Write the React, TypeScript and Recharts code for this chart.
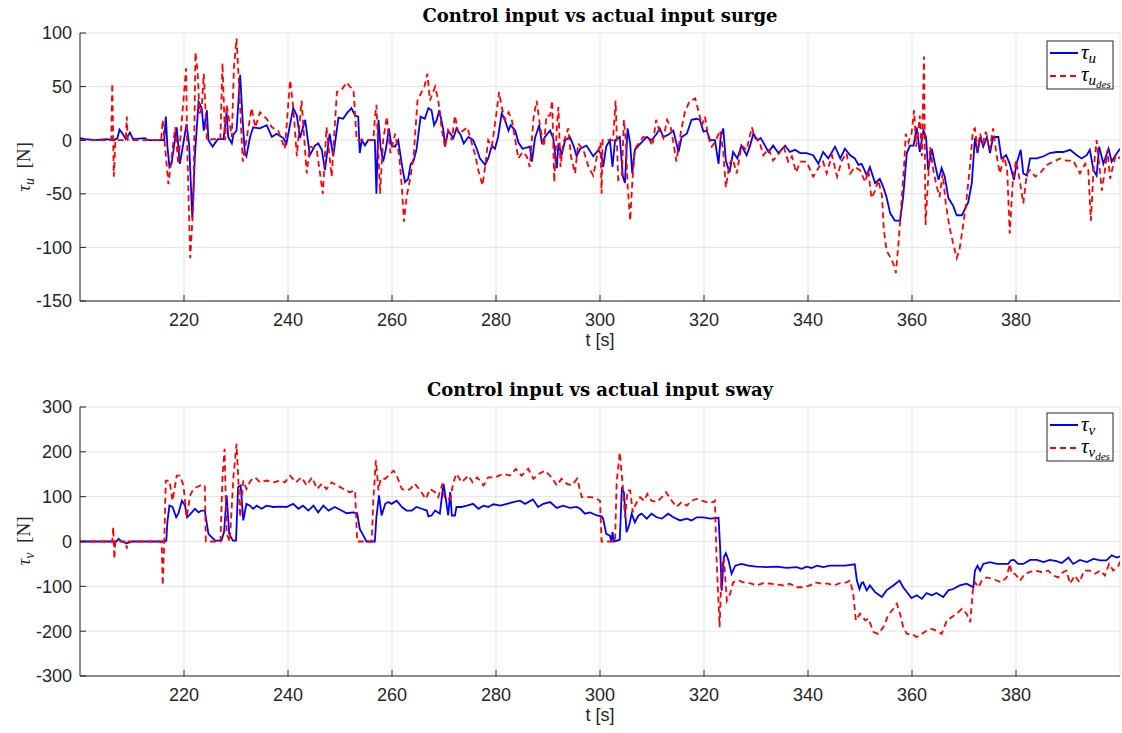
import React from 'react';
import { LineChart, Line, XAxis, YAxis, CartesianGrid } from 'recharts';

// time axis ticks (s)
const xTicks = [220, 240, 260, 280, 300, 320, 340, 360, 380];
const surgeTicks = [-150, -100, -50, 0, 50, 100];
const swayTicks = [-300, -200, -100, 0, 100, 200, 300];

// [t, tau] samples
const surgeActual: [number, number][] = [
  [200, 2], [201, 1], [203, 0], [205, 1], [206.5, 0], [207.2, 2], [207.6, 10], [208.2, 6], [208.8, 1], [209.6, 7],
  [210.2, 1], [212.5, 2], [213, 0], [216.2, 0], [216.5, 22], [216.8, -5], [217.2, -25], [217.6, -22], [218.6, 12],
  [219.2, -22], [219.8, -5], [220.5, 15], [221, -5], [221.6, -73], [222.1, -14], [222.8, 36], [223.4, 30], [223.8, 9],
  [224.4, 28], [224.7, 0], [225.5, -6], [226.5, 1], [227.6, 1], [228.2, 26], [228.5, 3], [229.2, -3], [229.5, 5],
  [230.1, 9], [230.8, 61], [231.3, 17], [231.7, -12], [232, -15], [232.7, 3], [233.3, 12], [234.6, 11], [235.9, 14],
  [236.9, 3], [237.8, 6], [239.1, 2], [239.7, -3], [241, 30], [241.7, 23], [242.3, 2], [243.3, 19], [244.2, -14],
  [245.2, -5], [245.8, -3], [246.5, -9], [247.1, -28], [248, 6], [248.7, -15], [249.7, 21], [250.6, 20], [251.3, 25],
  [252.2, 30], [252.9, 23], [253.5, 22], [253.8, -12], [254.2, 0], [254.8, -5], [255.4, 0], [256.7, 0], [257, -50],
  [257.4, 19], [257.8, -6], [258.3, -20], [258.8, -9], [259.4, 11], [259.9, -5], [260.6, -6], [261.2, 0], [261.9, -23],
  [262.5, -39], [263.1, -36], [263.6, -22], [264.1, -20], [264.7, -9], [265.5, 22], [266.3, 20], [267, 30], [267.6, 28],
  [268.1, 14], [268.6, 19], [269.1, 28], [269.9, 9], [270.2, -6], [270.8, 9], [271.8, 2], [272.4, 11], [273.2, 5],
  [273.8, -3], [274.7, 3], [275.6, 0], [276.3, -8], [276.9, -17], [277.9, -23], [278.5, -17], [279.2, -5], [279.8, -8],
  [280.4, 3], [281.1, 25], [281.7, 19], [282.4, 9], [282.8, 14], [283.7, 9], [284.3, -2], [285.1, -8], [286.5, -6],
  [286.9, -20], [287.5, 2], [288.3, 14], [288.8, -2], [289.4, 3], [290.4, 9], [291, 2], [291.7, -26], [292, -3],
  [292.6, -14], [293.3, 0], [294.2, 3], [294.9, -5], [295.5, -15], [296.2, -8], [297.4, -5], [298.7, -15], [299.7, -9],
  [300.3, -14], [300.6, -25], [301.2, -6], [301.9, 0], [302.4, -25], [302.9, 0], [303.8, 3], [304.4, -34], [304.8, -40],
  [305.3, 11], [305.8, -3], [306.2, -31], [306.7, -9], [307.4, -5], [308, -2], [309, 3], [309.9, 0], [310.9, 6],
  [311.5, 11], [312.2, 3], [313.1, 5], [314.1, 9], [315.1, -11], [315.7, 3], [316.7, 6], [317.6, 19], [318.6, 20],
  [319.2, 19], [319.9, 8], [320.5, 9], [321.2, 0], [322.1, 0], [322.8, -22], [323.2, 3], [323.7, 11], [324.2, -19],
  [324.9, -30], [325.6, -11], [326.4, -17], [327.2, -5], [328.2, -14], [328.8, -6], [329.5, 6], [330.3, 0], [330.9, 2],
  [331.5, -3], [332.4, -11], [333.3, -5], [334.3, -12], [335.6, -5], [336.5, -11], [337.5, -9], [338.5, -12],
  [339.7, -12], [341, -14], [342, -22], [342.9, -11], [343.9, -17], [345.2, -6], [346.2, -17], [347.1, -8], [348.1, -14],
  [349, -17], [349.7, -23], [350.3, -22], [350.6, -25], [351.3, -33], [351.9, -25], [352.9, -40], [353.8, -36],
  [354.5, -44], [355.1, -53], [355.8, -68], [356.7, -75], [357.7, -75], [358.3, -53], [359, -12], [359.6, -5],
  [360.3, -5], [360.9, 12], [361.5, -11], [362.2, 9], [362.7, 3], [363.1, -28], [363.8, -8], [364.4, -22], [365.1, -37],
  [365.7, -26], [366.3, -34], [367, -54], [367.9, -61], [368.6, -70], [369.6, -70], [370.2, -64], [370.8, -58],
  [371.5, -40], [372.1, 2], [372.6, -12], [373.1, 3], [373.7, -6], [374.4, 3], [375, -12], [375.6, 3], [376.6, 3],
  [377.2, -17], [378.1, -14], [378.8, -22], [379.6, -37], [380.1, -22], [380.9, -9], [381.4, -31], [382.1, -33],
  [382.7, -17], [384, -17], [385.3, -15], [386.5, -12], [387.8, -11], [389.1, -11], [390.4, -9], [391.7, -14],
  [392.6, -17], [393.6, -14], [394.2, -9], [394.9, -28], [395.5, -33], [396, -6], [396.8, -22], [397.8, -8],
  [398.4, -20], [399, -15], [400, -8],
];

const surgeDesired: [number, number][] = [
  [200, 0], [206, 0], [206.2, 53], [206.5, -34], [206.8, 0], [208.8, 0], [209, 22], [209.2, 0], [215.6, 0], [215.9, 19],
  [217, -41], [218.3, 12], [218.9, -22], [219.6, 20], [220.4, 67], [220.6, -3], [221.2, -110], [221.8, -59], [222.2, 82],
  [222.6, 65], [223, 25], [223.4, 30], [223.8, 62], [224.4, 0], [225.6, 1], [227, 1], [227.4, 72], [227.9, 0],
  [228.2, 33], [229.2, 3], [229.6, 68], [230.1, 95], [230.6, 50], [231.3, -20], [232, 0], [233, 30], [233.7, 12],
  [234.6, 26], [235.9, 20], [236.9, 12], [238.1, 9], [239.4, -8], [240.4, 56], [241, 31], [241.7, -15], [242.6, 37],
  [243.6, -31], [244.2, -6], [245.5, -8], [246.7, -50], [247.4, 12], [248.4, -34], [249.4, 45], [250.3, 47],
  [251.3, 54], [251.9, 50], [252.6, 47], [253.2, 0], [256.4, 0], [256.7, 20], [257, 33], [257.7, -50], [258.3, 0],
  [259, 22], [259.7, -12], [260.6, 6], [261.4, -15], [261.9, -44], [262.3, -76], [262.8, -53], [263.6, -33],
  [264.2, -12], [264.9, 37], [265.7, 45], [266.3, 51], [266.8, 62], [267.3, 37], [268.3, 50], [268.9, 37], [269.6, 9],
  [270.2, -6], [270.8, 9], [271.5, 0], [272.1, 23], [272.8, 6], [273.7, 9], [274.5, 12], [275.3, -2], [276, -14],
  [276.6, -28], [277.4, -42], [277.9, -25], [278.5, 0], [279.2, -6], [279.6, 8], [280.1, 26], [280.6, 45], [281.1, 31],
  [281.7, 19], [282.4, 26], [283, 20], [283.7, 0], [284.3, -17], [285.1, -11], [285.9, -15], [286.5, -25], [287.2, 20],
  [287.8, 37], [288.5, 12], [289.2, -6], [289.7, 23], [290.4, 23], [290.8, 37], [291.2, -39], [291.7, 12], [292, 31],
  [292.4, -25], [292.9, -3], [293.9, 11], [294.4, -15], [295.2, -31], [295.8, -3], [296.8, -9], [297.8, -25],
  [298.7, -33], [299.4, -15], [300.1, -2], [300.3, -50], [300.5, 0], [302.5, 0], [303, 37], [303.5, -37], [304.2, -34],
  [304.6, 19], [305, -2], [305.3, -42], [305.8, -75], [306.2, -40], [306.7, -8], [307.6, -2], [308.3, 3], [309.3, 2],
  [310.1, -5], [310.8, 19], [311.4, 9], [312.2, 2], [312.9, 19], [313.6, 12], [314.2, -5], [314.7, -20], [315.6, 9],
  [316.3, 26], [317.2, 36], [318.3, 39], [318.9, 28], [319.6, 14], [320.2, 22], [320.8, 3], [321.5, -6], [322.1, -2],
  [323.1, 9], [323.7, -11], [324.2, -44], [324.9, -22], [325.5, -17], [326.3, -31], [327.2, -5], [328.2, -9],
  [329.2, 12], [329.8, 2], [330.6, 0], [331.4, -14], [332.4, -8], [333.3, -19], [334.5, -12], [335.3, -6], [336.2, -20],
  [336.9, -15], [337.7, -30], [338.5, -20], [339.7, -20], [341, -34], [342, -26], [342.9, -20], [343.6, -31],
  [344.6, -14], [345.6, -34], [346.5, -19], [347.4, -12], [348.1, -31], [349, -25], [350, -28], [351, -39],
  [351.6, -28], [352.2, -54], [352.9, -47], [353.5, -37], [354.2, -51], [354.6, -84], [355.1, -103], [355.8, -109],
  [356.4, -115], [356.9, -124], [357.4, -96], [358, -56], [358.5, -22], [358.8, 6], [359.3, -2], [359.9, 6],
  [360.4, 28], [360.8, -6], [361.2, 9], [361.5, 23], [361.9, -15], [362.3, 78], [362.6, -79], [363, -45], [363.5, -6],
  [364, -25], [364.6, -40], [365.3, -53], [365.9, -31], [366.5, -59], [367.2, -81], [367.9, -96], [368.6, -110],
  [369.1, -103], [369.7, -84], [370.4, -59], [371.2, -22], [371.7, 9], [372.1, 11], [372.6, -9], [373.1, 6],
  [373.6, -3], [374.2, 8], [374.9, -9], [375.6, 11], [376.3, -15], [376.9, -31], [377.7, -15], [378.3, -28],
  [378.8, -87], [379.4, -37], [380, -19], [380.6, -34], [381.4, -59], [382.1, -31], [382.7, -28], [383.7, -34],
  [384.6, -31], [385.9, -23], [387.2, -20], [388.5, -17], [389.7, -19], [391, -19], [392.3, -31], [393.3, -22],
  [393.9, -28], [394.4, -75], [394.9, -28], [395.5, 0], [396, -22], [396.5, -47], [397.1, -28], [397.6, -9],
  [398.1, -36], [398.6, -25], [399.2, -14], [400, -17],
];

const swayActual: [number, number][] = [
  [200, 0], [207, 0], [207.4, 6], [208, 0], [209, -4], [210, 0], [216.3, 0], [216.6, 2], [216.8, 43], [217.2, 80],
  [217.8, 77], [218.5, 54], [218.9, 62], [219.6, 91], [220.2, 80], [220.6, 54], [221.3, 62], [222.1, 73], [222.8, 65],
  [223.4, 69], [224, 69], [224.7, 17], [225.3, 10], [226, 2], [227.2, 2], [227.7, 21], [228.2, 103], [228.7, 17],
  [229.4, 2], [230, 2], [230.4, 121], [230.9, 125], [231.4, 47], [232, 84], [232.7, 80], [233.3, 73], [234, 80],
  [234.9, 73], [235.9, 80], [237.2, 77], [238.5, 78], [239.7, 77], [241, 84], [242, 73], [242.9, 80], [243.9, 69],
  [244.9, 80], [245.8, 65], [246.8, 80], [247.8, 69], [249, 77], [250.3, 69], [251.3, 63], [252.6, 65], [253.3, 63],
  [253.8, 28], [254.5, 13], [255.1, 0], [256.7, 0], [257, 54], [257.5, 103], [258, 58], [258.7, 84], [259.3, 88],
  [259.9, 84], [260.9, 91], [261.9, 77], [262.8, 69], [263.8, 69], [264.7, 77], [265.7, 73], [266.7, 69], [267, 56],
  [267.6, 58], [268.3, 69], [269.2, 62], [269.9, 129], [270.4, 91], [270.8, 58], [271.2, 110], [271.5, 58], [272.1, 58],
  [272.4, 77], [273.4, 77], [274.4, 80], [275.6, 84], [276.6, 73], [277.6, 80], [278.5, 77], [279.5, 83], [280.8, 80],
  [282.1, 84], [283.3, 88], [284.6, 91], [285.6, 84], [287.1, 94], [288.1, 77], [289.1, 84], [290.4, 88], [291.7, 75],
  [292.9, 80], [294.2, 75], [295.5, 77], [296.2, 73], [297.1, 62], [298.1, 65], [299.4, 58], [300.3, 56], [300.6, 51],
  [301.2, 17], [301.9, 13], [302.2, 0], [302.4, 21], [302.7, 0], [303.8, 4], [304.2, 117], [304.6, 110], [305.1, 21],
  [305.6, 36], [306.1, 62], [306.7, 43], [307.4, 58], [308, 62], [309, 51], [309.9, 62], [310.9, 54], [311.9, 51],
  [313.1, 62], [314.1, 54], [315.4, 47], [316.7, 51], [317.6, 47], [318.6, 54], [319.9, 54], [321.2, 51], [322.8, 53],
  [323.1, -13], [323.4, -110], [323.8, -35], [324.2, -26], [324.7, -42], [325.3, -72], [326, -54], [327.2, -50],
  [328.5, -54], [330.1, -56], [332, -57], [334, -56], [335.9, -59], [337.8, -57], [338.8, -61], [339.7, -56],
  [340.7, -59], [341.7, -54], [342.9, -57], [344.2, -54], [345.5, -54], [347.1, -54], [349, -51], [349.4, -87],
  [349.9, -106], [350.3, -93], [350.6, -91], [351.3, -109], [351.9, -98], [352.9, -113], [354.2, -124], [355.1, -109],
  [356.4, -98], [357.6, -87], [358.3, -102], [359.3, -117], [359.9, -126], [360.9, -120], [361.9, -128], [362.8, -115],
  [363.8, -120], [364.7, -115], [366, -124], [367, -109], [367.9, -106], [369.2, -98], [370.5, -94], [371.8, -102],
  [372.1, -65], [372.6, -54], [373.1, -65], [373.7, -50], [375, -46], [376.3, -50], [377.6, -50], [378.5, -50],
  [379, -42], [379.6, -41], [380.4, -50], [381.4, -50], [382.7, -41], [384, -41], [385.3, -46], [386.5, -41],
  [387.8, -44], [388.8, -48], [390.1, -36], [391, -50], [392.3, -41], [393.6, -46], [394.9, -39], [396.2, -42],
  [397.4, -42], [398.4, -31], [399.4, -36], [400, -33],
];

const swayDesired: [number, number][] = [
  [200, 0], [206.2, 0], [206.4, 32], [206.6, -39], [206.8, 0], [208.8, 0], [209, -16], [209.3, 0], [215.7, 0],
  [215.9, -98], [216.2, 0], [216.5, 136], [217.2, 136], [217.8, 91], [218.6, 147], [219.2, 147], [219.9, 125],
  [220.5, 54], [221.2, 103], [221.8, 117], [222.4, 121], [223.2, 125], [224, 125], [224.2, 0], [227, 0], [227.4, 143],
  [227.8, 207], [228.2, 17], [228.8, 0], [229.5, 143], [230.1, 218], [230.8, 54], [231.4, 136], [232, 117],
  [232.8, 136], [233.7, 143], [234.6, 132], [235.9, 136], [237.2, 132], [238.5, 136], [239.4, 132], [240.4, 147],
  [241.5, 132], [242.6, 143], [243.6, 125], [244.6, 143], [245.6, 117], [246.5, 129], [247.4, 117], [248.4, 132],
  [249.4, 125], [250.3, 120], [251, 114], [251.9, 110], [252.9, 114], [253.3, 0], [256.1, 0], [256.4, 91],
  [256.9, 181], [257.4, 114], [257.8, 140], [258.7, 140], [259.3, 147], [260.3, 158], [260.9, 147], [261.9, 117],
  [262.8, 114], [263.5, 117], [264.4, 129], [265.4, 114], [266.5, 95], [267.3, 117], [268.3, 110], [268.9, 99],
  [269.6, 125], [270.2, 95], [271.2, 95], [271.8, 132], [272.4, 151], [273.4, 132], [274.7, 147], [275.5, 132],
  [276.4, 143], [277.6, 125], [278.5, 143], [279.8, 143], [281.4, 151], [282.7, 147], [283.8, 162], [284.9, 147],
  [286.2, 162], [287.2, 140], [288.3, 151], [289.4, 158], [290.7, 143], [291.7, 125], [292.6, 140], [293.6, 129],
  [294.6, 125], [295.6, 140], [296.5, 99], [297.4, 99], [298.4, 99], [299.4, 95], [300, 91], [300.3, 0], [302.9, 0],
  [303.2, 132], [303.8, 199], [304.4, 121], [304.8, 54], [305.3, 114], [305.8, 114], [306.3, 65], [306.9, 84],
  [307.7, 99], [308.5, 91], [309.1, 106], [309.9, 91], [310.9, 88], [311.9, 99], [312.7, 110], [313.8, 91],
  [314.7, 77], [315.7, 88], [316.7, 80], [317.6, 91], [318.6, 95], [319.6, 91], [320.5, 88], [321.8, 88], [322.1, 91],
  [322.4, -35], [323, -191], [323.4, -57], [323.8, -35], [324.4, -132], [325, -117], [325.6, -91], [326.6, -87],
  [327.6, -91], [328.8, -93], [330.1, -98], [331.4, -93], [332.7, -94], [334, -96], [335.3, -98], [336.5, -94],
  [337.8, -102], [339.1, -102], [340.4, -98], [341.3, -91], [342.6, -94], [343.9, -94], [344.9, -98], [346.2, -93],
  [347.4, -91], [348.1, -87], [348.7, -117], [349.2, -176], [350, -161], [351, -176], [351.6, -172], [352.6, -202],
  [353.5, -206], [354.5, -191], [355.4, -165], [356.4, -150], [357.1, -139], [357.7, -161], [358.3, -191], [359, -206],
  [359.9, -206], [360.9, -213], [361.9, -206], [362.8, -199], [363.8, -195], [364.7, -199], [365.7, -206],
  [366.7, -176], [367.6, -169], [368.6, -161], [369.6, -150], [370.5, -161], [371.2, -180], [371.7, -109],
  [372.1, -91], [372.8, -102], [373.4, -87], [374.4, -80], [375.3, -83], [376.3, -87], [377.2, -91], [378.2, -80],
  [378.8, -50], [379.2, -72], [379.8, -72], [380.8, -87], [381.7, -72], [382.7, -68], [383.7, -65], [384.9, -68],
  [386.2, -65], [387.2, -76], [388.1, -80], [389.1, -68], [389.7, -65], [390.4, -94], [391.3, -76], [392.2, -91],
  [393.1, -65], [394.2, -65], [395.2, -72], [396.2, -65], [397.1, -76], [397.9, -50], [398.7, -65], [399.7, -54],
  [400, -45],
];

const AXIS = '#262626';
const GRID = '#e3e3e3';
const BLUE = '#0000ff';
const RED = '#ff0000';
const SANS = '"Liberation Sans", Arial, Helvetica, sans-serif';
const SERIF = '"Liberation Serif", "DejaVu Serif", serif';
const TITLE_FONT = '"DejaVu Serif", serif';

const toRows = (pts: [number, number][]) => pts.map(([t, v]) => ({ t, v }));

const tickStyle = { fontFamily: SANS, fontSize: 18, fill: AXIS };

type PanelProps = {
  actual: [number, number][];
  desired: [number, number][];
  ticks: number[];
  domain: [number, number];
  height: number;
  bottom: number;
};

const Panel = ({ actual, desired, ticks, domain, height, bottom }: PanelProps) => (
  <LineChart width={1122} height={height} margin={{ top: 33, right: 2, bottom, left: 0 }}>
    <CartesianGrid stroke={GRID} strokeWidth={1} />
    <XAxis
      type="number"
      dataKey="t"
      domain={[200, 400]}
      ticks={xTicks}
      allowDataOverflow
      height={45}
      tickSize={-6}
      tickMargin={18}
      stroke={AXIS}
      tick={tickStyle}
      label={{ value: 't [s]', position: 'insideBottom', offset: 0, style: { fontFamily: SANS, fontSize: 18, fill: AXIS } }}
    />
    <YAxis
      type="number"
      dataKey="v"
      domain={domain}
      ticks={ticks}
      allowDataOverflow
      width={80}
      tickSize={-6}
      tickMargin={14}
      stroke={AXIS}
      tick={tickStyle}
    />
    <Line data={toRows(actual)} dataKey="v" type="linear" stroke={BLUE} strokeWidth={1.8} dot={false} isAnimationActive={false} />
    <Line data={toRows(desired)} dataKey="v" type="linear" stroke={RED} strokeWidth={1.8} strokeDasharray="6 4" dot={false} isAnimationActive={false} />
  </LineChart>
);

// legend box drawn like the MATLAB one
const LegendBox = ({ y, sub }: { y: number; sub: string }) => (
  <g>
    <rect x={1047} y={y} width={66} height={48} fill="#fff" stroke={AXIS} strokeWidth={1} />
    <line x1={1050} x2={1078} y1={y + 12} y2={y + 12} stroke={BLUE} strokeWidth={2} />
    <text x={1081} y={y + 18} fontFamily={SERIF} fontStyle="italic" fontSize={21} fill="#000">
      τ<tspan fontSize={15} dy={4}>{sub}</tspan>
    </text>
    <line x1={1050} x2={1078} y1={y + 35} y2={y + 35} stroke={RED} strokeWidth={2} strokeDasharray="6 4" />
    <text x={1081} y={y + 40} fontFamily={SERIF} fontStyle="italic" fontSize={21} fill="#000">
      τ<tspan fontSize={15} dy={4}>{sub}</tspan>
      <tspan fontSize={11} dy={3}>des</tspan>
    </text>
  </g>
);

const YLabel = ({ cy, sub }: { cy: number; sub: string }) => (
  <text transform={`translate(30,${cy}) rotate(-90)`} textAnchor="middle" fontFamily={SERIF} fontSize={19} fill={AXIS}>
    <tspan fontStyle="italic">τ</tspan>
    <tspan fontStyle="italic" fontSize={14} dy={4}>{sub}</tspan>
    <tspan dy={-4}>{'\u00a0\u00a0[N]'}</tspan>
  </text>
);

export default function App() {
  return (
    <div style={{ position: 'absolute', left: 0, top: 0, width: 1122, height: 733, background: '#fff' }}>
      <div style={{ position: 'absolute', left: 0, top: 0 }}>
        <Panel actual={surgeActual} desired={surgeDesired} ticks={surgeTicks} domain={[-150, 100]} height={370} bottom={24} />
      </div>
      <div style={{ position: 'absolute', left: 0, top: 374 }}>
        <Panel actual={swayActual} desired={swayDesired} ticks={swayTicks} domain={[-300, 300]} height={359} bottom={12} />
      </div>
      <svg width={1122} height={733} style={{ position: 'absolute', left: 0, top: 0, pointerEvents: 'none' }}>
        <text x={600} y={22} textAnchor="middle" fontFamily={TITLE_FONT} fontWeight="bold" fontSize={18} fill="#000">
          Control input vs actual input surge
        </text>
        <text x={600} y={396} textAnchor="middle" fontFamily={TITLE_FONT} fontWeight="bold" fontSize={18} fill="#000">
          Control input vs actual input sway
        </text>
        <YLabel cy={167} sub="u" />
        <YLabel cy={541} sub="v" />
        <LegendBox y={41} sub="u" />
        <LegendBox y={413} sub="v" />
      </svg>
    </div>
  );
}
